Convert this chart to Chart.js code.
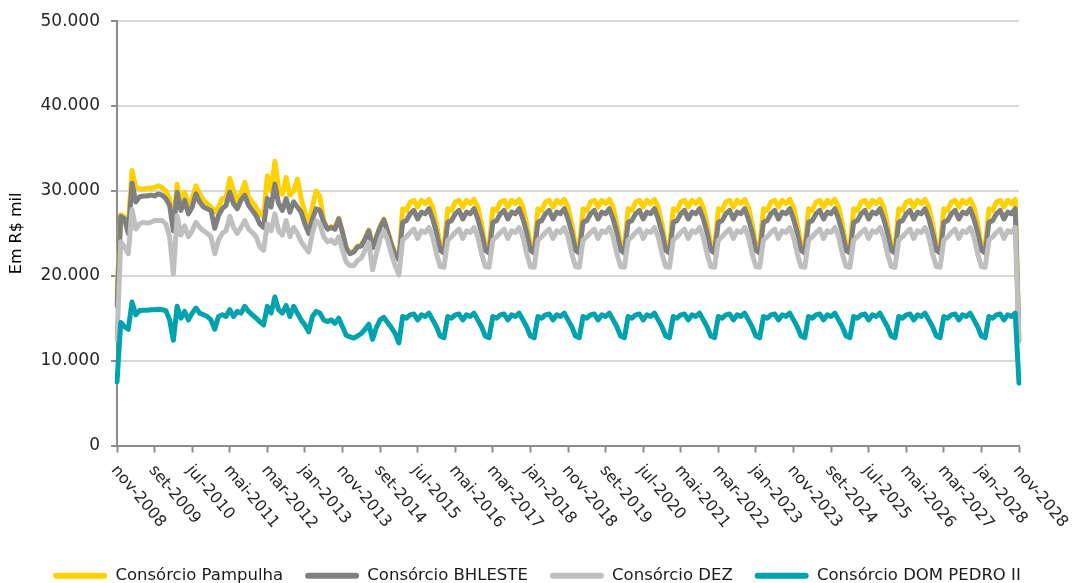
<!DOCTYPE html>
<html lang="pt-BR">
<head>
<meta charset="utf-8">
<title>Consórcios - Em R$ mil</title>
<script src="https://cdn.jsdelivr.net/npm/chart.js@4.4.1/dist/chart.umd.min.js"></script>
<style>
    html, body { margin: 0; padding: 0; background: #ffffff; }
    #wrap { width: 1074px; height: 583px; position: relative; }
</style>
</head>
<body>
<div id="wrap"><canvas id="chart"></canvas></div>
<script>
// monthly series, nov-2008 .. nov-2028 (241 points)
const monthNames = ['jan', 'fev', 'mar', 'abr', 'mai', 'jun', 'jul', 'ago', 'set', 'out', 'nov', 'dez'];
const months = [];
for (let k = 0; k < 241; k++) {
    const m = (10 + k) % 12;
    const y = 2008 + Math.floor((10 + k) / 12);
    months.push(monthNames[m] + '-' + y);
}

// labels shown under the axis (every 10 months)
const tickLabels = ['nov-2008', 'set-2009', 'jul-2010', 'mai-2011', 'mar-2012', 'jan-2013', 'nov-2013',
    'set-2014', 'jul-2015', 'mai-2016', 'mar-2017', 'jan-2018', 'nov-2018', 'set-2019', 'jul-2020',
    'mai-2021', 'mar-2022', 'jan-2023', 'nov-2023', 'set-2024', 'jul-2025', 'mai-2026', 'mar-2027',
    'jan-2028', 'nov-2028'];

const seriesNames = ['Consórcio Pampulha', 'Consórcio BHLESTE', 'Consórcio DEZ', 'Consórcio DOM PEDRO II'];

const pampulha = [
    18000, 27200,                                                                     // 2008 nov-dez
    26900, 26000, 32400, 30400, 30300, 30200, 30300, 30300, 30400, 30600, 30400, 30000, // 2009
    29100, 26000, 30800, 28500, 29850, 28300, 29100, 30600, 29650, 28900, 28500, 28100, // 2010
    27500, 28100, 29100, 29100, 31500, 30000, 28700, 29700, 31000, 29300, 28700, 28100, // 2011
    27300, 26900, 31800, 30000, 33500, 30400, 29600, 31600, 29500, 30000, 31400, 29100, // 2012
    27500, 25700, 28100, 30000, 29300, 26500, 25600, 25800, 25600, 26800, 25200, 23300, // 2013
    22700, 22900, 23500, 23600, 24400, 25400, 23400, 24600, 25800, 26700, 25300, 23800, // 2014
    22600, 22000, 27900, 27700, 28700, 28900, 28100, 28900, 28500, 29000, 28100, 26100, // 2015
    23600, 23300, 27900, 27700, 28700, 28900, 28100, 28900, 28500, 29000, 28100, 26100, // 2016
    23600, 23300, 27900, 27700, 28700, 28900, 28100, 28900, 28500, 29000, 28100, 26100, // 2017
    23600, 23300, 27900, 27700, 28700, 28900, 28100, 28900, 28500, 29000, 28100, 26100, // 2018
    23600, 23300, 27900, 27700, 28700, 28900, 28100, 28900, 28500, 29000, 28100, 26100, // 2019
    23600, 23300, 27900, 27700, 28700, 28900, 28100, 28900, 28500, 29000, 28100, 26100, // 2020
    23600, 23300, 27900, 27700, 28700, 28900, 28100, 28900, 28500, 29000, 28100, 26100, // 2021
    23600, 23300, 27900, 27700, 28700, 28900, 28100, 28900, 28500, 29000, 28100, 26100, // 2022
    23600, 23300, 27900, 27700, 28700, 28900, 28100, 28900, 28500, 29000, 28100, 26100, // 2023
    23600, 23300, 27900, 27700, 28700, 28900, 28100, 28900, 28500, 29000, 28100, 26100, // 2024
    23600, 23300, 27900, 27700, 28700, 28900, 28100, 28900, 28500, 29000, 28100, 26100, // 2025
    23600, 23300, 27900, 27700, 28700, 28900, 28100, 28900, 28500, 29000, 28100, 26100, // 2026
    23600, 23300, 27900, 27700, 28700, 28900, 28100, 28900, 28500, 29000, 28100, 26100, // 2027
    23600, 23300, 27900, 27700, 28700, 28900, 28100, 28900, 28500, 29000, 12500         // 2028 jan-nov
];

const bhleste = [
    16500, 27000,
    26700, 25000, 30900, 28700, 29300, 29400, 29400, 29500, 29400, 29650, 29500, 29100,
    28300, 25300, 29850, 27700, 28900, 27300, 28100, 29650, 28700, 28100, 27900, 27700,
    25600, 27100, 27900, 28300, 29850, 28500, 27900, 28900, 29500, 28300, 27700, 27100,
    26100, 25700, 29100, 28100, 30800, 28500, 27700, 29100, 27500, 28700, 28100, 27500,
    26100, 25000, 26700, 27900, 27700, 26300, 25500, 25700, 25500, 26700, 25100, 23200,
    22600, 22800, 23400, 23500, 24300, 25300, 23300, 24500, 25700, 26600, 25200, 23700,
    22500, 21900, 26300, 26500, 27300, 27700, 26700, 27500, 27300, 27900, 26700, 25100,
    23000, 22700, 26300, 26500, 27300, 27700, 26700, 27500, 27300, 27900, 26700, 25100,
    23000, 22700, 26300, 26500, 27300, 27700, 26700, 27500, 27300, 27900, 26700, 25100,
    23000, 22700, 26300, 26500, 27300, 27700, 26700, 27500, 27300, 27900, 26700, 25100,
    23000, 22700, 26300, 26500, 27300, 27700, 26700, 27500, 27300, 27900, 26700, 25100,
    23000, 22700, 26300, 26500, 27300, 27700, 26700, 27500, 27300, 27900, 26700, 25100,
    23000, 22700, 26300, 26500, 27300, 27700, 26700, 27500, 27300, 27900, 26700, 25100,
    23000, 22700, 26300, 26500, 27300, 27700, 26700, 27500, 27300, 27900, 26700, 25100,
    23000, 22700, 26300, 26500, 27300, 27700, 26700, 27500, 27300, 27900, 26700, 25100,
    23000, 22700, 26300, 26500, 27300, 27700, 26700, 27500, 27300, 27900, 26700, 25100,
    23000, 22700, 26300, 26500, 27300, 27700, 26700, 27500, 27300, 27900, 26700, 25100,
    23000, 22700, 26300, 26500, 27300, 27700, 26700, 27500, 27300, 27900, 26700, 25100,
    23000, 22700, 26300, 26500, 27300, 27700, 26700, 27500, 27300, 27900, 26700, 25100,
    23000, 22700, 26300, 26500, 27300, 27700, 26700, 27500, 27300, 27900, 12400
];

const dez = [
    12500, 24000,
    23400, 22600, 27800, 25500, 26100, 26300, 26200, 26300, 26500, 26500, 26500, 26100,
    24600, 20200, 27100, 24800, 25900, 24600, 25300, 26300, 25700, 25300, 25000, 24600,
    22600, 24200, 25000, 25300, 27000, 25700, 25000, 25700, 26500, 25500, 25100, 24600,
    23400, 23000, 26100, 25300, 27300, 25300, 24800, 26500, 24600, 25700, 25000, 24000,
    23400, 22800, 25000, 26500, 26100, 24600, 24000, 24200, 23800, 24600, 23000, 21600,
    21200, 21200, 21800, 22100, 23000, 23900, 20700, 22600, 24300, 25300, 24200, 22600,
    21200, 20100, 24200, 24600, 25100, 25500, 24400, 25300, 25100, 25700, 24600, 22600,
    21100, 21000, 24200, 24600, 25100, 25500, 24400, 25300, 25100, 25700, 24600, 22600,
    21100, 21000, 24200, 24600, 25100, 25500, 24400, 25300, 25100, 25700, 24600, 22600,
    21100, 21000, 24200, 24600, 25100, 25500, 24400, 25300, 25100, 25700, 24600, 22600,
    21100, 21000, 24200, 24600, 25100, 25500, 24400, 25300, 25100, 25700, 24600, 22600,
    21100, 21000, 24200, 24600, 25100, 25500, 24400, 25300, 25100, 25700, 24600, 22600,
    21100, 21000, 24200, 24600, 25100, 25500, 24400, 25300, 25100, 25700, 24600, 22600,
    21100, 21000, 24200, 24600, 25100, 25500, 24400, 25300, 25100, 25700, 24600, 22600,
    21100, 21000, 24200, 24600, 25100, 25500, 24400, 25300, 25100, 25700, 24600, 22600,
    21100, 21000, 24200, 24600, 25100, 25500, 24400, 25300, 25100, 25700, 24600, 22600,
    21100, 21000, 24200, 24600, 25100, 25500, 24400, 25300, 25100, 25700, 24600, 22600,
    21100, 21000, 24200, 24600, 25100, 25500, 24400, 25300, 25100, 25700, 24600, 22600,
    21100, 21000, 24200, 24600, 25100, 25500, 24400, 25300, 25100, 25700, 24600, 22600,
    21100, 21000, 24200, 24600, 25100, 25500, 24400, 25300, 25100, 25700, 12300
];

const domPedro = [
    7500, 14500,
    14000, 13700, 16900, 15400, 15900, 15950, 15950, 16000, 16000, 16050, 16000, 15900,
    14800, 12400, 16400, 15000, 15800, 14800, 15600, 16200, 15600, 15400, 15200, 14800,
    13700, 15200, 15400, 15200, 16000, 15200, 15800, 15600, 16400, 15800, 15400, 15000,
    14600, 14200, 16400, 15600, 17500, 16000, 15600, 16500, 15200, 16400, 15600, 14800,
    14200, 13400, 15200, 15800, 15600, 14800, 14600, 14800, 14400, 15000, 14000, 13000,
    12800, 12650, 12900, 13200, 13700, 14300, 12500, 13900, 14800, 15100, 14500, 13900,
    13200, 12100, 15200, 15000, 15400, 15500, 14800, 15400, 15200, 15600, 14800, 14000,
    12900, 12700, 15200, 15000, 15400, 15500, 14800, 15400, 15200, 15600, 14800, 14000,
    12900, 12700, 15200, 15000, 15400, 15500, 14800, 15400, 15200, 15600, 14800, 14000,
    12900, 12700, 15200, 15000, 15400, 15500, 14800, 15400, 15200, 15600, 14800, 14000,
    12900, 12700, 15200, 15000, 15400, 15500, 14800, 15400, 15200, 15600, 14800, 14000,
    12900, 12700, 15200, 15000, 15400, 15500, 14800, 15400, 15200, 15600, 14800, 14000,
    12900, 12700, 15200, 15000, 15400, 15500, 14800, 15400, 15200, 15600, 14800, 14000,
    12900, 12700, 15200, 15000, 15400, 15500, 14800, 15400, 15200, 15600, 14800, 14000,
    12900, 12700, 15200, 15000, 15400, 15500, 14800, 15400, 15200, 15600, 14800, 14000,
    12900, 12700, 15200, 15000, 15400, 15500, 14800, 15400, 15200, 15600, 14800, 14000,
    12900, 12700, 15200, 15000, 15400, 15500, 14800, 15400, 15200, 15600, 14800, 14000,
    12900, 12700, 15200, 15000, 15400, 15500, 14800, 15400, 15200, 15600, 14800, 14000,
    12900, 12700, 15200, 15000, 15400, 15500, 14800, 15400, 15200, 15600, 14800, 14000,
    12900, 12700, 15200, 15000, 15400, 15500, 14800, 15400, 15200, 15600, 7350
];

const colors = ['#FFD100', '#808080', '#BFBFBF', '#00A3AD'];

Chart.defaults.font.family = '"DejaVu Sans", Verdana, sans-serif';
Chart.defaults.color = '#262626';

// rotated month labels, drawn clockwise like the original
const xLabelsPlugin = {
    id: 'xLabels',
    afterDraw(chart) {
        const xs = chart.scales.x;
        const ctx = chart.ctx;
        ctx.save();
        ctx.font = '16px "DejaVu Sans", Verdana, sans-serif';
        ctx.fillStyle = '#262626';
        ctx.textAlign = 'left';
        ctx.textBaseline = 'middle';
        tickLabels.forEach(function(lbl, k) {
            const px = xs.getPixelForValue(k * 10);
            ctx.save();
            ctx.translate(px - 3, xs.top + 22);
            ctx.rotate(50 * Math.PI / 180);
            ctx.fillText(lbl, 0, 0);
            ctx.restore();
        });
        ctx.restore();
    }
};

function makeSet(i, data) {
    return {
        label: seriesNames[i],
        data: data,
        borderColor: colors[i],
        backgroundColor: colors[i],
        borderWidth: 5,
        pointRadius: 0,
        pointHoverRadius: 0,
        tension: 0,
        borderJoinStyle: 'round',
        borderCapStyle: 'round',
        fill: false,
        order: 4 - i // later series drawn on top, like Excel
    };
}

const ctx = document.getElementById('chart').getContext('2d');
const lineChart = new Chart(ctx, {
    type: 'line',
    data: {
        labels: months,
        datasets: [
            makeSet(0, pampulha),
            makeSet(1, bhleste),
            makeSet(2, dez),
            makeSet(3, domPedro)
        ]
    },
    options: {
        responsive: true,
        maintainAspectRatio: false,
        animation: false,
        layout: {
            padding: { left: 0, right: 0, top: 20, bottom: -11 }
        },
        scales: {
            x: {
                grid: {
                    drawOnChartArea: false,
                    drawTicks: true,
                    tickLength: 7,
                    tickWidth: 2,
                    tickColor: function(c) {
                        return c.index % 10 === 0 ? '#8c8c8c' : 'rgba(0,0,0,0)';
                    }
                },
                border: { color: '#8c8c8c', width: 2 },
                ticks: { display: false, autoSkip: false },
                afterFit: function(scale) {
                    scale.height = 100;
                    scale.paddingRight = 55; // room on the right of the plot, legend keeps full width
                }
            },
            y: {
                min: 0,
                max: 50000,
                ticks: {
                    stepSize: 10000,
                    padding: 11,
                    font: { size: 17 },
                    color: '#262626',
                    callback: function(value) {
                        return value === 0 ? '0' : (value / 1000) + '.000';
                    }
                },
                grid: {
                    color: '#d9d9d9',
                    lineWidth: 2,
                    tickLength: 6,
                    tickColor: '#8c8c8c',
                    tickWidth: 2
                },
                border: { color: '#8c8c8c', width: 2 },
                title: {
                    display: true,
                    text: 'Em R$ mil',
                    font: { size: 16 },
                    color: '#000000',
                    padding: { top: 7, bottom: 0 }
                },
                afterFit: function(scale) { scale.width = 117; }
            }
        },
        plugins: {
            legend: {
                position: 'bottom',
                labels: {
                    boxWidth: 54,
                    boxHeight: 6,
                    padding: 22,
                    useBorderRadius: true,
                    borderRadius: 3,
                    font: { size: 16.5 },
                    color: '#1a1a1a',
                    generateLabels: function(chart) {
                        const items = Chart.defaults.plugins.legend.labels.generateLabels(chart);
                        items.forEach(function(it) {
                            it.lineWidth = 0;
                            it.fillStyle = colors[it.datasetIndex];
                        });
                        return items.sort(function(a, b) { return a.datasetIndex - b.datasetIndex; });
                    }
                }
            },
            tooltip: { enabled: false }
        }
    },
    plugins: [xLabelsPlugin]
});
</script>
</body>
</html>
